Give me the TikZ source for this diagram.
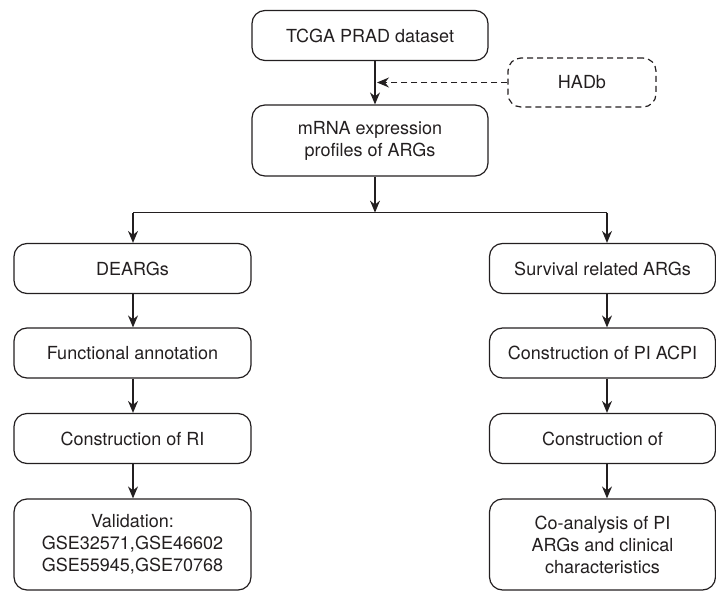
\documentclass[tikz,border=0pt]{standalone}
\usepackage{fontspec}
\setmainfont{TeX Gyre Heros}
\usetikzlibrary{arrows.meta}
\definecolor{ink}{HTML}{231F20}
\begin{document}
\begin{tikzpicture}[x=1pt,y=-1pt,
  every node/.style={font=\fontsize{18}{22}\selectfont, text=ink, align=center, inner sep=0pt},
  stepbox/.style={draw=ink, line width=1.2pt, rounded corners=13pt, minimum height=50pt},
  wide/.style={minimum width=236pt},
  side/.style={minimum width=226pt},
  link/.style={draw=ink, line width=1.2pt, -{Stealth[length=12pt,width=10pt,inset=4pt]}},
  dlink/.style={link, dash pattern=on 6pt off 4pt}]
\useasboundingbox (0,0) rectangle (716,592);

% top of the flow
\node[stepbox, wide] (tcga) at (370,35.5) {TCGA PRAD dataset};
\node[stepbox, wide, minimum height=71pt] (mrna) at (370,140.5) {mRNA expression\\profiles of ARGs};
\node[stepbox, dash pattern=on 6pt off 4pt, minimum width=148pt, minimum height=49pt] (hadb) at (582,82.5) {HADb};

% left branch
\node[stepbox, minimum width=237pt] (deargs) at (132.5,268.5) {DEARGs};
\node[stepbox, minimum width=237pt] (func) at (132.5,353) {Functional annotation};
\node[stepbox, minimum width=237pt] (ri) at (132.5,438.5) {Construction of RI};
\node[stepbox, minimum width=237pt, minimum height=91pt] (valid) at (132.5,544.5) {Validation:\\GSE32571,GSE46602\\GSE55945,GSE70768};

% right branch
\node[stepbox, side] (surv) at (602.5,268.5) {Survival related ARGs};
\node[stepbox, side] (acpi) at (602.5,353) {Construction of PI ACPI};
\node[stepbox, side] (cons) at (602.5,438.5) {Construction of};
\node[stepbox, side, minimum height=91pt] (coan) at (602.5,544.5) {Co-analysis of PI\\ARGs and clinical\\characteristics};

% connectors
\coordinate (hit) at ([xshift=5pt]tcga.south |- hadb.west);
\draw[link] ([xshift=5pt]tcga.south) -- ([xshift=5pt]mrna.north);
\draw[dlink] (hadb.west) -- ([xshift=2pt]hit);
\coordinate (fork) at ([xshift=5pt,yshift=-36pt]mrna.south);
\draw[link] ([xshift=5pt]mrna.south) -- (fork);
\draw[draw=ink, line width=1.2pt] ([xshift=0.5pt]deargs.north |- fork) -- ([xshift=4.5pt]surv.north |- fork);
\draw[link] ([xshift=0.5pt]deargs.north |- fork) -- ([xshift=0.5pt]deargs.north);
\draw[link] ([xshift=4.5pt]surv.north |- fork) -- ([xshift=4.5pt]surv.north);

\draw[link] ([xshift=0.5pt]deargs.south) -- ([xshift=0.5pt]func.north);
\draw[link] ([xshift=0.5pt]func.south) -- ([xshift=0.5pt]ri.north);
\draw[link] ([xshift=0.5pt]ri.south) -- ([xshift=0.5pt]valid.north);

\draw[link] ([xshift=4.5pt]surv.south) -- ([xshift=4.5pt]acpi.north);
\draw[link] ([xshift=4.5pt]acpi.south) -- ([xshift=4.5pt]cons.north);
\draw[link] ([xshift=4.5pt]cons.south) -- ([xshift=4.5pt]coan.north);
\end{tikzpicture}
\end{document}
